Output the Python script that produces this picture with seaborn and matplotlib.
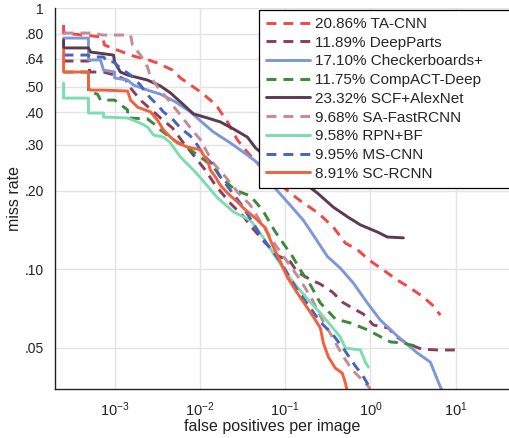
import numpy as np
import pandas as pd
import seaborn as sns
import matplotlib.pyplot as plt
from matplotlib.ticker import FixedLocator, FixedFormatter, LogLocator, NullFormatter, FuncFormatter

# ------------------------------------------------------------------------------------------------ #
# miss rate vs false positives per image
labels = [
    "20.86% TA-CNN",
    "11.89% DeepParts",
    "17.10% Checkerboards+",
    "11.75% CompACT-Deep",
    "23.32% SCF+AlexNet",
    "9.68% SA-FastRCNN",
    "9.58% RPN+BF",
    "9.95% MS-CNN",
    "8.91% SC-RCNN",
]

ta_cnn_fppi = [2.52e-4, 2.52e-4, 7.21e-4, 7.62e-4, 1.24e-3, 1.67e-3, 2.50e-3, 3.18e-3, 4.77e-3,
               5.92e-3, 1.02e-2, 1.33e-2, 1.61e-2, 2.11e-2, 2.76e-2, 3.61e-2, 4.73e-2, 6.73e-2,
               0.115, 0.151, 0.246, 0.368, 0.509, 0.704, 0.947, 1.42, 2.07, 2.94, 4.18, 5.33, 6.62]
ta_cnn_mr = [0.863, 0.804, 0.776, 0.723, 0.680, 0.656, 0.634, 0.617, 0.580, 0.541, 0.478, 0.445,
             0.418, 0.367, 0.313, 0.281, 0.255, 0.228, 0.196, 0.183, 0.164, 0.145, 0.126, 0.119,
             0.109, 0.0994, 0.0910, 0.0848, 0.0783, 0.0730, 0.0668]

deepparts_fppi = [2.52e-4, 5.08e-4, 5.08e-4, 7.41e-4, 1.0e-3, 1.38e-3, 1.38e-3, 2.01e-3, 3.36e-3,
                  4.77e-3, 6.42e-3, 8.41e-3, 1.16e-2, 1.52e-2, 2.28e-2, 3.16e-2, 4.14e-2, 5.88e-2,
                  8.13e-2, 0.115, 0.139, 0.203, 0.259, 0.359, 0.469, 0.615, 0.828, 1.084, 1.63,
                  1.96, 2.64, 3.96, 6.10, 9.92]
deepparts_mr = [0.628, 0.628, 0.570, 0.570, 0.555, 0.531, 0.517, 0.445, 0.383, 0.348, 0.305, 0.274,
                0.240, 0.210, 0.179, 0.161, 0.144, 0.126, 0.113, 0.107, 0.0976, 0.0910, 0.0878,
                0.0818, 0.0749, 0.0711, 0.0674, 0.0612, 0.0596, 0.0555, 0.0522, 0.0495, 0.0491,
                0.0491]

checker_fppi = [2.52e-4, 4.94e-4, 4.94e-4, 6.84e-4, 7.41e-4, 1.0e-3, 1.0e-3, 1.42e-3, 1.67e-3,
                2.43e-3, 3.45e-3, 5.18e-3, 7.76e-3, 1.02e-2, 1.44e-2, 2.28e-2, 3.61e-2, 5.13e-2,
                6.73e-2, 0.115, 0.164, 0.215, 0.313, 0.445, 0.632, 0.922, 1.31, 2.07, 3.56, 5.05,
                6.62, 7.17]
checker_mr = [0.769, 0.769, 0.634, 0.634, 0.580, 0.570, 0.541, 0.531, 0.508, 0.486, 0.469, 0.438,
              0.401, 0.370, 0.336, 0.305, 0.274, 0.251, 0.214, 0.176, 0.154, 0.135, 0.112, 0.101,
              0.0886, 0.0743, 0.0639, 0.0555, 0.0478, 0.0441, 0.0354, 0.0339]

compact_fppi = [2.52e-4, 4.94e-4, 4.94e-4, 6.31e-4, 6.84e-4, 1.0e-3, 1.42e-3, 1.42e-3, 2.43e-3,
                3.02e-3, 3.45e-3, 4.90e-3, 7.16e-3, 1.02e-2, 1.44e-2, 1.74e-2, 2.61e-2, 3.92e-2,
                5.42e-2, 7.69e-2, 9.81e-2, 0.122, 0.151, 0.198, 0.259, 0.389, 0.583, 0.873, 1.208,
                1.72, 2.44, 3.37]
compact_mr = [0.570, 0.570, 0.478, 0.469, 0.445, 0.445, 0.408, 0.380, 0.377, 0.357, 0.342, 0.313,
              0.292, 0.269, 0.247, 0.226, 0.201, 0.191, 0.169, 0.139, 0.124, 0.112, 0.0994, 0.0871,
              0.0743, 0.0645, 0.0623, 0.0591, 0.0560, 0.0527, 0.0522, 0.0508]

scf_fppi = [2.52e-4, 2.52e-4, 4.94e-4, 5.22e-4, 9.71e-4, 1.0e-3, 1.17e-3, 1.42e-3, 2.43e-3, 3.45e-3,
            4.52e-3, 5.92e-3, 8.41e-3, 1.23e-2, 1.74e-2, 2.48e-2, 3.61e-2, 4.49e-2, 6.20e-2,
            9.55e-2, 0.151, 0.239, 0.368, 0.538, 0.764, 1.208, 1.58, 2.44]
scf_mr = [0.756, 0.705, 0.705, 0.680, 0.662, 0.623, 0.570, 0.555, 0.531, 0.504, 0.474, 0.438, 0.394,
          0.380, 0.367, 0.345, 0.321, 0.292, 0.267, 0.244, 0.220, 0.196, 0.173, 0.159, 0.148, 0.139,
          0.133, 0.132]

safast_fppi = [2.52e-4, 5.66e-4, 7.21e-4, 1.54e-3, 1.62e-3, 2.01e-3, 2.43e-3, 2.64e-3, 3.27e-3,
               4.28e-3, 5.92e-3, 7.76e-3, 1.02e-2, 1.23e-2, 1.44e-2, 2.00e-2, 2.76e-2, 3.92e-2,
               5.42e-2, 7.69e-2, 0.106, 0.151, 0.209, 0.274, 0.359, 0.469, 0.615, 0.873, 1.0]
safast_mr = [0.804, 0.804, 0.790, 0.790, 0.723, 0.662, 0.596, 0.545, 0.495, 0.445, 0.390, 0.348,
             0.313, 0.279, 0.255, 0.226, 0.198, 0.176, 0.148, 0.124, 0.107, 0.0910, 0.0763, 0.0639,
             0.0550, 0.0469, 0.0411, 0.0367, 0.0348]

rpn_fppi = [2.52e-4, 2.52e-4, 4.94e-4, 4.94e-4, 7.41e-4, 7.41e-4, 1.42e-3, 2.01e-3, 2.43e-3,
            2.86e-3, 3.74e-3, 4.52e-3, 5.92e-3, 8.41e-3, 1.02e-2, 1.61e-2, 2.48e-2, 3.92e-2,
            5.57e-2, 7.29e-2, 0.101, 0.132, 0.188, 0.259, 0.340, 0.445, 0.509, 0.764, 0.873, 0.947]
rpn_mr = [0.517, 0.453, 0.453, 0.397, 0.397, 0.383, 0.380, 0.363, 0.351, 0.327, 0.321, 0.305, 0.269,
          0.240, 0.224, 0.188, 0.166, 0.154, 0.132, 0.115, 0.0976, 0.0871, 0.0763, 0.0680, 0.0612,
          0.0550, 0.0499, 0.0491, 0.0441, 0.0422]

mscnn_fppi = [2.52e-4, 4.81e-4, 5.22e-4, 7.41e-4, 8.26e-4, 9.71e-4, 1.17e-3, 1.54e-3, 2.01e-3,
              2.30e-3, 2.64e-3, 3.18e-3, 3.74e-3, 4.90e-3, 5.92e-3, 7.76e-3, 9.37e-3, 1.10e-2,
              1.44e-2, 1.74e-2, 2.28e-2, 2.99e-2, 4.14e-2, 5.13e-2, 6.37e-2, 8.81e-2, 0.139, 0.198,
              0.259, 0.359, 0.496, 0.667, 0.805, 0.947, 0.973]
mscnn_mr = [0.662, 0.662, 0.651, 0.651, 0.623, 0.623, 0.590, 0.555, 0.508, 0.478, 0.453, 0.426,
            0.401, 0.373, 0.348, 0.324, 0.299, 0.274, 0.251, 0.226, 0.201, 0.179, 0.152, 0.135,
            0.123, 0.107, 0.0833, 0.0711, 0.0628, 0.0565, 0.0491, 0.0426, 0.0394, 0.0360, 0.0339]

scrcnn_fppi = [2.52e-4, 2.52e-4, 4.94e-4, 4.94e-4, 5.22e-4, 7.41e-4, 1.42e-3, 1.54e-3, 1.86e-3,
               2.64e-3, 3.18e-3, 3.74e-3, 4.52e-3, 5.46e-3, 7.16e-3, 1.02e-2, 1.10e-2, 1.23e-2,
               1.33e-2, 1.52e-2, 1.74e-2, 2.11e-2, 2.76e-2, 3.42e-2, 4.49e-2, 5.88e-2, 7.10e-2,
               8.81e-2, 0.106, 0.132, 0.164, 0.215, 0.259, 0.281, 0.322, 0.389, 0.469, 0.509, 0.538]
scrcnn_mr = [0.692, 0.570, 0.570, 0.495, 0.486, 0.486, 0.482, 0.445, 0.418, 0.401, 0.373, 0.342,
             0.321, 0.305, 0.294, 0.287, 0.274, 0.262, 0.240, 0.226, 0.210, 0.196, 0.181, 0.169,
             0.157, 0.144, 0.124, 0.107, 0.0934, 0.0833, 0.0749, 0.0657, 0.0596, 0.0522, 0.0461,
             0.0418, 0.0400, 0.0367, 0.0339]

y_ticks = [0.05, 0.10, 0.20, 0.30, 0.40, 0.50, 0.64, 0.80, 1.0]
y_tick_labels = [".05", ".10", ".20", ".30", ".40", ".50", ".64", ".80", "1"]

# ------------------------------------------------------------------------------------------------ #
fppi = [ta_cnn_fppi, deepparts_fppi, checker_fppi, compact_fppi, scf_fppi,
        safast_fppi, rpn_fppi, mscnn_fppi, scrcnn_fppi]
miss = [ta_cnn_mr, deepparts_mr, checker_mr, compact_mr, scf_mr,
        safast_mr, rpn_mr, mscnn_mr, scrcnn_mr]
colors = ["#f24848", "#8a3d5c", "#7d98d6", "#3b8a3b", "#5b3a52",
          "#c48a96", "#7ddcb0", "#4565bd", "#f4603e"]
dashed = [True, True, False, True, False, True, False, True, False]

sns.set_style("white")
plt.rcParams["font.family"] = ["Liberation Sans", "DejaVu Sans"]

fig = plt.figure(figsize=(5.10, 4.38), dpi=100)
ax = fig.add_axes([55 / 510, 49 / 438, 455 / 510, 380.7 / 438])

for x, y, c, d, lab in zip(fppi, miss, colors, dashed, labels):
    df = pd.DataFrame({"fppi": x, "miss": y})
    ls = (0, (3.4, 2.4)) if d else "-"
    sns.lineplot(data=df, x="fppi", y="miss", ax=ax, color=c, linestyle=ls, linewidth=2.1,
                 estimator=None, sort=False, label=lab)

ax.set_xscale("log")
ax.set_yscale("log")
ax.set_xlim(2.0e-4, 43.4)
ax.set_ylim(0.0348, 1.0)

ax.yaxis.set_major_locator(FixedLocator(y_ticks))
ax.yaxis.set_major_formatter(FixedFormatter(y_tick_labels))
ax.yaxis.set_minor_locator(FixedLocator([0.04, 0.06, 0.07, 0.08, 0.09, 0.6, 0.7, 0.9]))
ax.yaxis.set_minor_formatter(NullFormatter())
ax.xaxis.set_major_locator(LogLocator(base=10, numticks=10))
ax.xaxis.set_minor_locator(LogLocator(base=10, subs=np.arange(2, 10), numticks=20))
ax.xaxis.set_major_formatter(FuncFormatter(lambda v, p: r"$\mathregular{10^{%d}}$" % round(np.log10(v))))
ax.xaxis.set_minor_formatter(NullFormatter())

ax.tick_params(which="both", direction="in", colors="#222222", labelcolor="#222222")
ax.tick_params(axis="y", which="major", length=6, width=1, pad=8, labelsize=10)
ax.tick_params(axis="x", which="major", length=6, width=1, pad=8, labelsize=10.5)
ax.tick_params(which="minor", length=3, width=0.8)

ax.grid(True, which="major", color="#e3e3e3", linewidth=1.0)
ax.set_axisbelow(True)
for side in ["top", "right"]:
    ax.spines[side].set_visible(False)
for side in ["left", "bottom"]:
    ax.spines[side].set_color("#222222")
    ax.spines[side].set_linewidth(1.0)

ax.set_xlabel("false positives per image", fontsize=11.5, color="#222222")
ax.set_ylabel("miss rate", fontsize=11.5, color="#222222")
ax.xaxis.set_label_coords(0.478, -0.08)
ax.yaxis.set_label_coords(-0.073, 0.5)

leg = ax.legend(loc="upper left", bbox_to_anchor=(259 / 510, 1 - 10 / 438, 280 / 510, 0),
                bbox_transform=fig.transFigure, mode="expand", borderaxespad=0,
                fontsize=11, handlelength=2.9, handletextpad=0.3, labelspacing=0.31,
                borderpad=0.45, frameon=True, fancybox=False, framealpha=1)
leg.get_frame().set_edgecolor("black")
leg.get_frame().set_linewidth(0.9)

fig.savefig("out.png", dpi=100)
